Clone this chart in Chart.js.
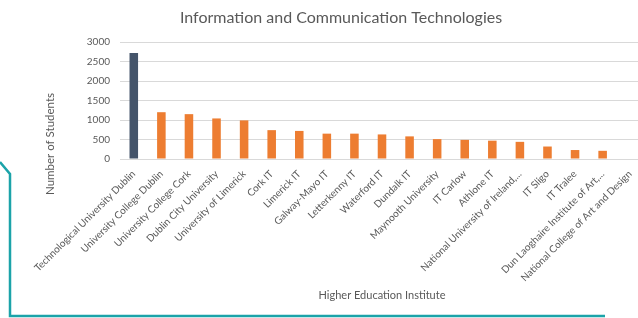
<!DOCTYPE html>
<html>
<head>
<meta charset="utf-8">
<script src="https://cdn.jsdelivr.net/npm/chart.js@4.4.0/dist/chart.umd.min.js"></script>
<style>
  html,body{margin:0;padding:0;background:#fff;overflow:hidden;}
  #wrap{position:relative;width:638px;height:318px;overflow:hidden;}
  /* canvas a bit wider than the window: plot runs off the right edge like the source */
  #box{position:absolute;left:0;top:0;width:682px;height:318px;}
  #deco{position:absolute;left:0;top:0;pointer-events:none;}
</style>
</head>
<body>
<div id="wrap">
  <div id="box"><canvas id="c"></canvas></div>
  <svg id="deco" width="638" height="318">
    <polyline points="0,162 10,174 10,316 605,316" fill="none" stroke="#1ba3a9" stroke-width="2.5"/>
  </svg>
</div>
<script>
// 数据
const institutes = [
  "Technological University Dublin",
  "University College Dublin",
  "University College Cork",
  "Dublin City University",
  "University of Limerick",
  "Cork IT",
  "Limerick IT",
  "Galway-Mayo IT",
  "Letterkenny IT",
  "Waterford IT",
  "Dundalk IT",
  "Maynooth University",
  "IT Carlow",
  "Athlone IT",
  "National University of Ireland,...",
  "IT Sligo",
  "IT Tralee",
  "Dun Laoghaire Institute of Art,...",
  "National College of Art and Design"
];
const students = [2720,1200,1150,1040,990,740,720,650,650,630,580,510,490,470,440,320,230,210,0];
const yTicks = [0,500,1000,1500,2000,2500,3000];
const chartTitle = "Information and Communication Technologies";
const xAxisTitle = "Higher Education Institute";
const yAxisTitle = "Number of Students";

const DARK = "#44546a", ORANGE = "#ed7d31", TXT = "#595959", FONT = "Lato";
Chart.defaults.font.family = FONT;

// 标题与y轴标题位置不跟随绘图区居中，手动画
const textPlugin = {
  id: "texts",
  afterDraw(chart){
    const c = chart.ctx;
    c.save();
    c.fillStyle = TXT;
    c.textAlign = "center";
    c.textBaseline = "middle";
    c.font = "16px " + FONT;
    c.fillText(chartTitle, 341, 18);
    c.translate(50, 144);
    c.rotate(-Math.PI/2);
    c.font = "11.5px " + FONT;
    c.fillText(yAxisTitle, 0, 0);
    c.restore();
  }
};

new Chart(document.getElementById("c").getContext("2d"), {
  type: "bar",
  data: {
    labels: institutes,
    datasets: [{
      data: students,
      backgroundColor: students.map((v,i)=> i===0 ? DARK : ORANGE),
      barPercentage: 0.31,
      categoryPercentage: 1
    }]
  },
  options: {
    responsive: true, maintainAspectRatio: false, animation: false,
    layout: {padding: {left:0, right:38, top:42, bottom:0}},
    plugins: {
      legend: {display:false},
      tooltip: {enabled:false}
    },
    scales: {
      x: {
        grid: {display:false, drawTicks:false},
        border: {display:false},
        ticks: {color:TXT, font:{size:10}, minRotation:45, maxRotation:45, autoSkip:false, padding:9},
        title: {display:true, text:xAxisTitle, color:TXT, font:{size:11}, padding:{top:0, bottom:16}},
        afterFit(s){ s.height = 159; }
      },
      y: {
        min: 0, max: 3000,
        grid: {color:"#d9d9d9", drawTicks:false},
        border: {display:false},
        ticks: {color:TXT, font:{size:10}, padding:10, callback: v => String(v)},
        afterBuildTicks(s){ s.ticks = yTicks.map(v=>({value:v})); },
        afterFit(s){ s.width = 120; }
      }
    }
  },
  plugins: [textPlugin]
});
</script>
</body>
</html>
